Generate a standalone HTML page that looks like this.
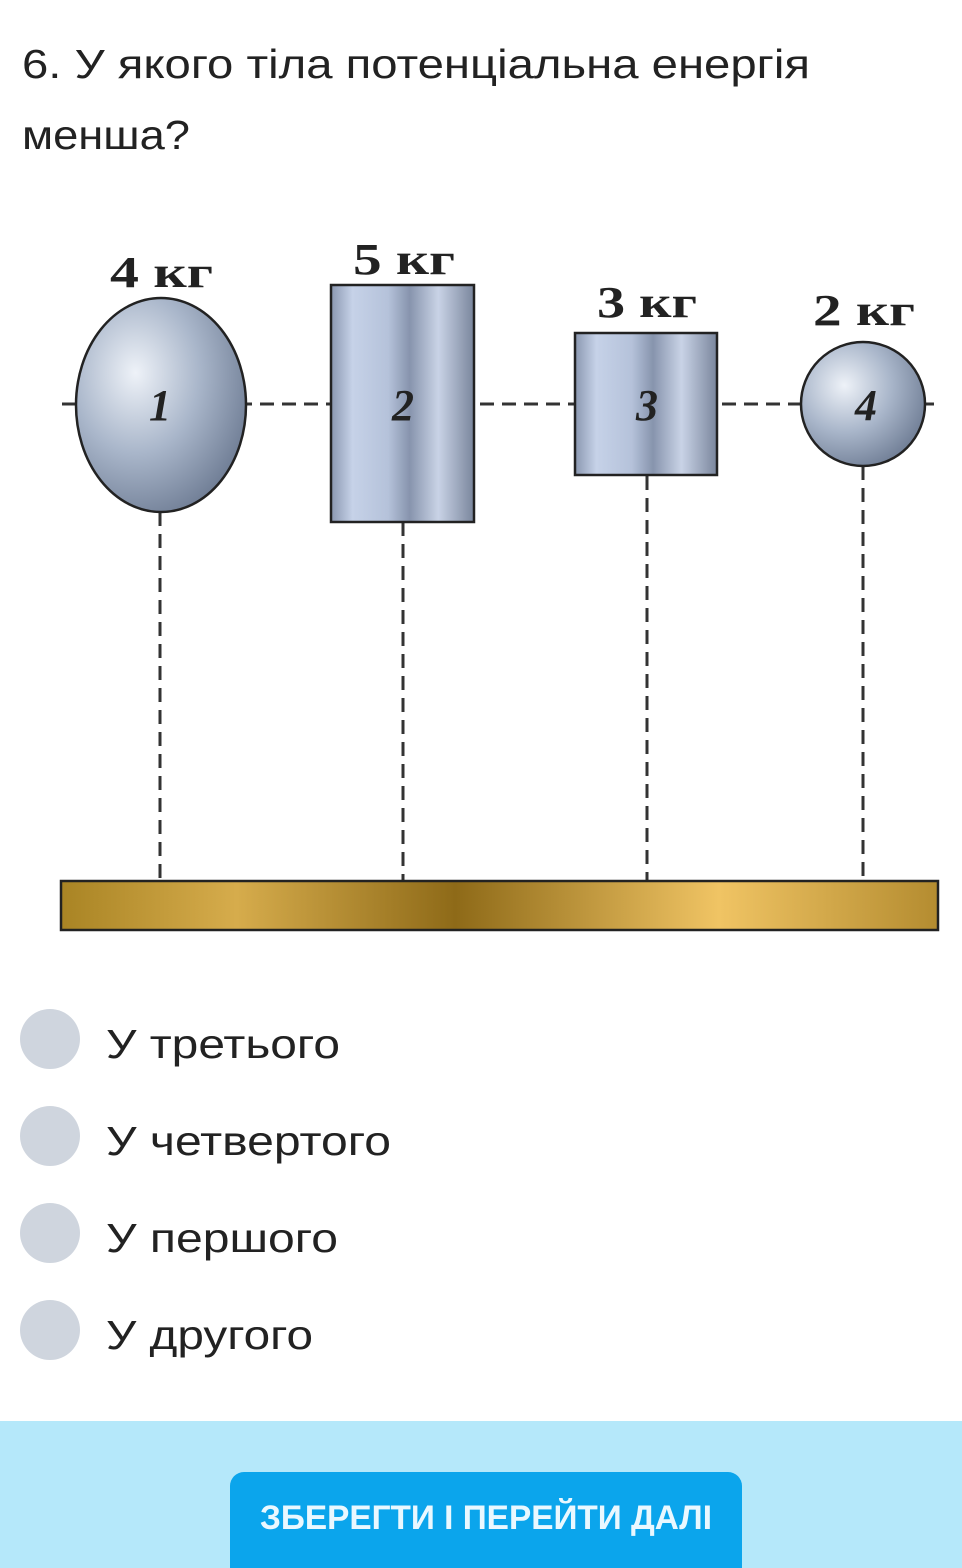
<!DOCTYPE html>
<html><head><meta charset="utf-8"><style>
html,body{margin:0;padding:0;background:#fff;width:962px;height:1568px;overflow:hidden}
svg{display:block}
.t{font-family:"Liberation Sans","DejaVu Sans",sans-serif;fill:#222}
.k{font-family:"Liberation Serif",serif;font-weight:bold;fill:#222}
</style></head><body>
<svg width="962" height="1568" viewBox="0 0 962 1568" xmlns="http://www.w3.org/2000/svg">
<defs>
<radialGradient id="sph" cx="0.35" cy="0.35" r="0.75">
<stop offset="0" stop-color="#eef2f8"/><stop offset="0.5" stop-color="#a9b6ca"/><stop offset="1" stop-color="#6a7890"/>
</radialGradient>
<linearGradient id="cyl" x1="0" x2="1" y1="0" y2="0">
<stop offset="0" stop-color="#8a97b0"/><stop offset="0.15" stop-color="#c6d2e8"/><stop offset="0.4" stop-color="#b5c2da"/><stop offset="0.55" stop-color="#8794ad"/><stop offset="0.75" stop-color="#c9d3e6"/><stop offset="1" stop-color="#7a869d"/>
</linearGradient>
<linearGradient id="gold" x1="0" x2="1" y1="0" y2="0">
<stop offset="0" stop-color="#a98424"/><stop offset="0.2" stop-color="#d6ac4c"/><stop offset="0.45" stop-color="#8e6a18"/><stop offset="0.75" stop-color="#f0c464"/><stop offset="1" stop-color="#b48c30"/>
</linearGradient>
</defs>
<text class="t" x="22" y="78" font-size="41" textLength="788" lengthAdjust="spacingAndGlyphs">6. У якого тіла потенціальна енергія</text>
<text class="t" x="22" y="149" font-size="41" textLength="168" lengthAdjust="spacingAndGlyphs">менша?</text>

<g stroke="#333" stroke-width="3" stroke-dasharray="14,8" fill="none">
<line x1="62" y1="404" x2="935" y2="404"/>
<line x1="160" y1="512" x2="160" y2="882"/>
<line x1="403" y1="522" x2="403" y2="882"/>
<line x1="647" y1="476" x2="647" y2="882"/>
<line x1="863" y1="466" x2="863" y2="882"/>
</g>
<ellipse cx="161" cy="405" rx="85" ry="107" fill="url(#sph)" stroke="#222" stroke-width="2.5"/>
<rect x="331" y="285" width="143" height="237" fill="url(#cyl)" stroke="#222" stroke-width="2.5"/>
<rect x="575" y="333" width="142" height="142" fill="url(#cyl)" stroke="#222" stroke-width="2.5"/>
<circle cx="863" cy="404" r="62" fill="url(#sph)" stroke="#222" stroke-width="2.5"/>
<rect x="61" y="881" width="877" height="49" fill="url(#gold)" stroke="#222" stroke-width="2.5"/>

<g class="k" font-size="44">
<text x="110" y="287" textLength="103" lengthAdjust="spacingAndGlyphs">4 кг</text>
<text x="353" y="274" textLength="102" lengthAdjust="spacingAndGlyphs">5 кг</text>
<text x="597" y="317" textLength="100" lengthAdjust="spacingAndGlyphs">3 кг</text>
<text x="813" y="325" textLength="102" lengthAdjust="spacingAndGlyphs">2 кг</text>
</g>
<g class="k" font-size="44" font-style="italic" text-anchor="middle">
<text x="160" y="420">1</text>
<text x="403" y="420">2</text>
<text x="647" y="420">3</text>
<text x="866" y="420">4</text>
</g>

<g fill="#cfd5de">
<circle cx="50" cy="1039" r="30"/><circle cx="50" cy="1136" r="30"/><circle cx="50" cy="1233" r="30"/><circle cx="50" cy="1330" r="30"/>
</g>
<g class="t" font-size="41">
<text x="106" y="1058" textLength="234" lengthAdjust="spacingAndGlyphs">У третього</text>
<text x="106" y="1155" textLength="285" lengthAdjust="spacingAndGlyphs">У четвертого</text>
<text x="106" y="1252" textLength="232" lengthAdjust="spacingAndGlyphs">У першого</text>
<text x="106" y="1349" textLength="207" lengthAdjust="spacingAndGlyphs">У другого</text>
</g>

<rect x="0" y="1421" width="962" height="147" fill="#b5e8fa"/>
<rect x="230" y="1472" width="512" height="110" rx="14" fill="#0ba5ec"/>
<text class="t" x="260" y="1529" font-size="34" font-weight="bold" style="fill:#eaf8ff" textLength="452" lengthAdjust="spacingAndGlyphs">ЗБЕРЕГТИ І ПЕРЕЙТИ ДАЛІ</text>
</svg>
</body></html>
